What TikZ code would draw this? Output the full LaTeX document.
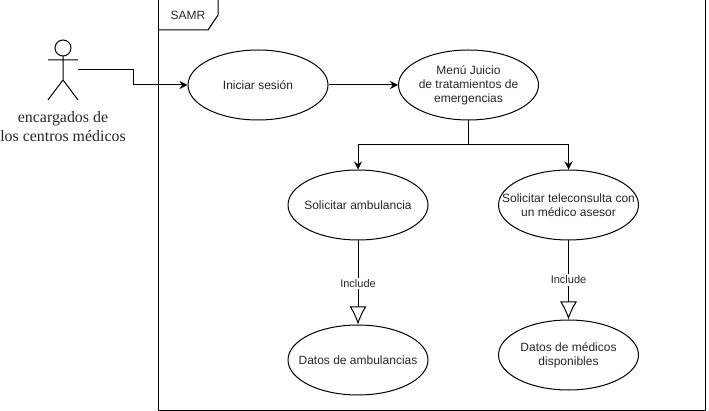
\documentclass[tikz,border=0pt]{standalone}
\usepackage{fontspec}
\setmainfont{Liberation Sans}
\newfontfamily\actorfont{Liberation Serif}
\usetikzlibrary{shapes.geometric, arrows.meta, positioning}

\begin{document}
\begin{tikzpicture}[
  x=1pt, y=-1pt, line width=1pt,
  usecase/.style={draw, ellipse, minimum width=140pt, minimum height=70pt, inner xsep=-30pt, inner ysep=-10pt, align=center, font=\fontsize{12}{14}\selectfont, text=black!85},
  flow/.style={-{Stealth[length=8pt, width=8pt]}},
  include/.style={-{Latex[open, length=18pt, width=17pt]}},
  inclabel/.style={fill=white, inner sep=1.5pt, font=\fontsize{11}{13}\selectfont, text=black!85}
]
  \useasboundingbox (0, 0) rectangle (709, 411);

  % frame
  \draw (158, 0) rectangle (705, 410);
  \draw (218, 0) -- (218, 15) -- (208, 30) -- (158, 30);
  \node[font=\fontsize{12}{14}\selectfont, text=black!85] (samr) at (188, 15) {SAMR};

  % actor
  \draw (63, 48) circle (8);
  \draw (63, 56) -- (63, 80) (48, 60) -- (78, 60) (48, 100) -- (63, 80) -- (78, 100);
  \node[align=center, font=\actorfont\fontsize{15.9}{19}\selectfont, text=black!85] (actorname) at (63, 126.5) {encargados de\\los centros médicos};

  \node[usecase] (login) at (258, 85) {Iniciar sesión};
  \node[usecase] (menu) at (468.5, 85) {Menú Juicio\\de tratamientos de\\emergencias};
  \node[usecase] (ambulance) at (358, 205) {Solicitar ambulancia};
  \node[usecase] (teleconsult) at (568.5, 205) {Solicitar teleconsulta con\\un médico asesor};
  \node[usecase] (ambdata) at (358, 360) {Datos de ambulancias};
  \node[usecase] (docdata) at (568.5, 355) {Datos de médicos\\disponibles};

  \coordinate (actorhand) at (78, 70);
  \coordinate (bendtop) at (133, 70);
  \coordinate (bendlow) at (133, 85);
  \coordinate (split) at (468.5, 145);

  \draw[flow] (actorhand) -- (bendtop) -- (bendlow) -- (login.west);
  \draw[flow] (login) -- (menu);
  \draw (menu.south) -- (split);
  \draw[flow] (split) -| (ambulance.north);
  \draw[flow] (split) -| (teleconsult.north);

  \draw[include] (ambulance) -- node[inclabel, pos=0.51] (incamb) {Include} (ambdata);
  \draw[include] (teleconsult) -- node[inclabel, pos=0.5] (incdoc) {Include} (docdata);
\end{tikzpicture}
\end{document}
